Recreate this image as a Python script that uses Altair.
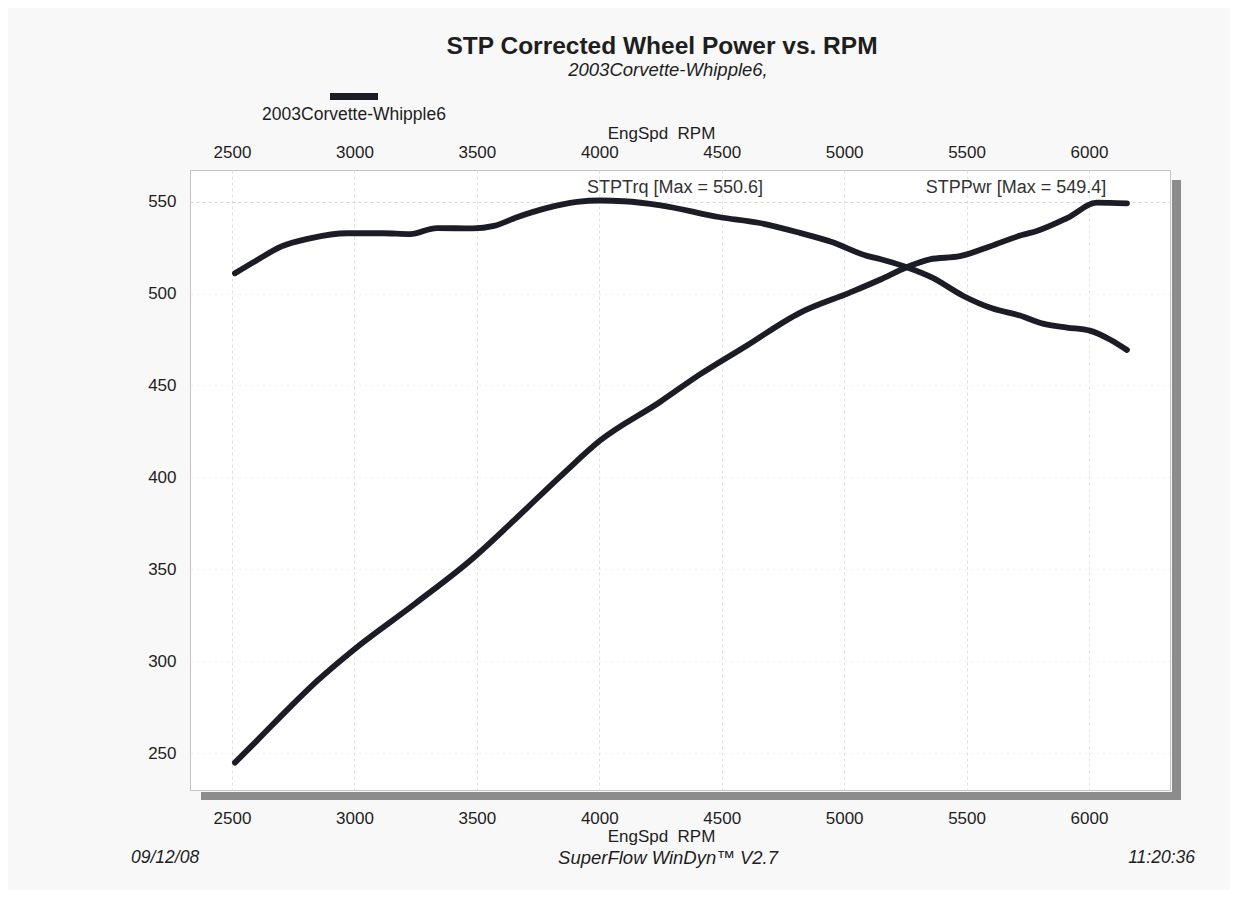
import altair as alt
import pandas as pd

# ---- data read from the dyno sheet ----
trq_rpm = [2512, 2600, 2700, 2818, 2970, 3117, 3227, 3337, 3484, 3570, 3664, 3780, 3909, 4003,
           4100, 4250, 4493, 4650, 4819, 4950, 5093, 5146, 5256, 5362, 5485, 5607, 5718, 5812,
           5910, 6003, 6085, 6155]
trq_val = [511.0, 518.0, 525.5, 530.0, 532.8, 532.8, 532.3, 535.6, 535.4, 536.8, 541.5, 546.3, 549.8, 550.6,
           550.2, 548.0, 541.5, 538.5, 533.0, 528.0, 520.5, 518.8, 514.3, 508.5, 498.8, 491.8, 488.0, 483.6,
           481.5, 479.8, 475.0, 469.3]

pwr_rpm = [2512, 2600, 2737, 2850, 3000, 3250, 3484, 3647, 3851, 4003, 4248, 4411, 4600, 4819, 5023,
           5146, 5256, 5350, 5473, 5595, 5730, 5787, 5910, 6032, 6155]
pwr_val = [244.8, 256.5, 275.0, 289.5, 306.5, 331.5, 356.0, 376.0, 401.8, 420.0, 441.0, 456.0, 471.5, 489.5, 500.5,
           507.5, 514.3, 518.6, 520.3, 525.6, 532.0, 534.0, 541.0, 549.4, 549.0]

x_ticks = [2500, 3000, 3500, 4000, 4500, 5000, 5500, 6000]
y_ticks = [250, 300, 350, 400, 450, 500, 550]

title_text = "STP Corrected Wheel Power vs. RPM"
subtitle_text = "2003Corvette-Whipple6,"
legend_text = "2003Corvette-Whipple6"
x_title = "EngSpd\u00a0\u00a0RPM"
trq_label = "STPTrq [Max = 550.6]"
pwr_label = "STPPwr [Max = 549.4]"
footer_left = "09/12/08"
footer_mid = "SuperFlow WinDyn\u2122 V2.7"
footer_right = "11:20:36"

FONT = "Liberation Sans"
LINE = "#1c1c26"
TXT = "#1e1e1e"

df = pd.concat([
    pd.DataFrame({"rpm": trq_rpm, "val": trq_val, "series": "STPTrq"}),
    pd.DataFrame({"rpm": pwr_rpm, "val": pwr_val, "series": "STPPwr"}),
])

xscale = alt.Scale(domain=[2328.5, 6330.8], nice=False, zero=False)
yscale = alt.Scale(domain=[229.9, 567.2], nice=False, zero=False)

y_axis = alt.Axis(values=y_ticks, title=None, labelFont=FONT, labelFontSize=17,
                  labelColor=TXT, labelPadding=14, domain=False, ticks=False,
                  grid=True, gridColor="#d6d6d6", gridDash=[3, 3], gridWidth=1,
                  gridOpacity=alt.ExprRef("datum.value == 550 ? 1 : 0.3"))

base = alt.Chart(df)

lines = base.mark_line(color=LINE, strokeWidth=5.8, strokeCap="round", strokeJoin="round",
                       interpolate="monotone").encode(
    x=alt.X("rpm:Q", scale=xscale,
            axis=alt.Axis(orient="bottom", values=x_ticks, title=x_title, format="d",
                          titleX=471, titleY=46, titleAlign="center",
                          titleBaseline="middle", titleFont=FONT, titleFontSize=17,
                          titleFontWeight="normal", titleColor=TXT,
                          labelFont=FONT, labelFontSize=17, labelColor=TXT, labelPadding=20,
                          labelBaseline="top", labelFlush=False, labelOverlap=False,
                          domain=False, ticks=False, grid=True, gridColor="#e0e0e0",
                          gridDash=[3, 3], gridWidth=1)),
    y=alt.Y("val:Q", scale=yscale, axis=y_axis),
    detail="series:N",
)

top_axis = base.mark_line(opacity=0).encode(
    x=alt.X("rpm:Q", scale=xscale,
            axis=alt.Axis(orient="top", values=x_ticks, title=x_title, format="d",
                          titleX=471, titleY=-37, titleAlign="center", titleBaseline="middle",
                          titleFont=FONT, titleFontSize=17, titleFontWeight="normal",
                          titleColor=TXT, labelFont=FONT, labelFontSize=17, labelColor=TXT,
                          labelPadding=9, labelFlush=False, labelOverlap=False,
                          domain=False, ticks=False, grid=False)),
    y=alt.Y("val:Q", scale=yscale, axis=y_axis),
    detail="series:N",
)

one = pd.DataFrame({"k": [0]})

shadow_right = alt.Chart(one).mark_rect(color="#8c8c8c").encode(
    x=alt.value(982), x2=alt.value(991), y=alt.value(10), y2=alt.value(630))
shadow_bottom = alt.Chart(one).mark_rect(color="#8c8c8c").encode(
    x=alt.value(11), x2=alt.value(991), y=alt.value(622), y2=alt.value(630))

legend_swatch = alt.Chart(one).mark_rect(color=LINE).encode(
    x=alt.value(140), x2=alt.value(188), y=alt.value(-77), y2=alt.value(-70))


def txt(s, x, y, size=16, align="center", weight="normal", style="normal", color=TXT):
    return alt.Chart(pd.DataFrame({"t": [s]})).mark_text(
        font=FONT, fontSize=size, align=align, baseline="middle", fontWeight=weight,
        fontStyle=style, color=color).encode(text="t:N", x=alt.value(x), y=alt.value(y))


texts = [
    txt(title_text, 472, -123, size=24.5, weight="bold"),
    txt(subtitle_text, 478, -100, size=18.5, style="italic"),
    txt(legend_text, 164, -55, size=17.5),
    txt(trq_label, 485, 18, size=18, color="#333333"),
    txt(pwr_label, 826, 18, size=18, color="#333333"),
    txt(footer_left, -59, 688, size=17.5, align="left", style="italic"),
    txt(footer_mid, 478, 688, size=18.5, style="italic"),
    txt(footer_right, 1005, 688, size=17.5, align="right", style="italic"),
]

chart = alt.layer(shadow_right, shadow_bottom, lines, top_axis, legend_swatch, *texts).resolve_axis(
    x="independent", y="shared").resolve_scale(x="shared").properties(
    width=980, height=620,
    padding={"left": 182, "top": 162, "right": 60, "bottom": 100},
    autosize=alt.AutoSizeParams(type="none"),
    background="#f8f8f8",
).configure_view(fill="white", stroke="#c4c4c4", strokeWidth=1)

chart.save("out.html", embed_options={"renderer": "svg", "actions": False})
